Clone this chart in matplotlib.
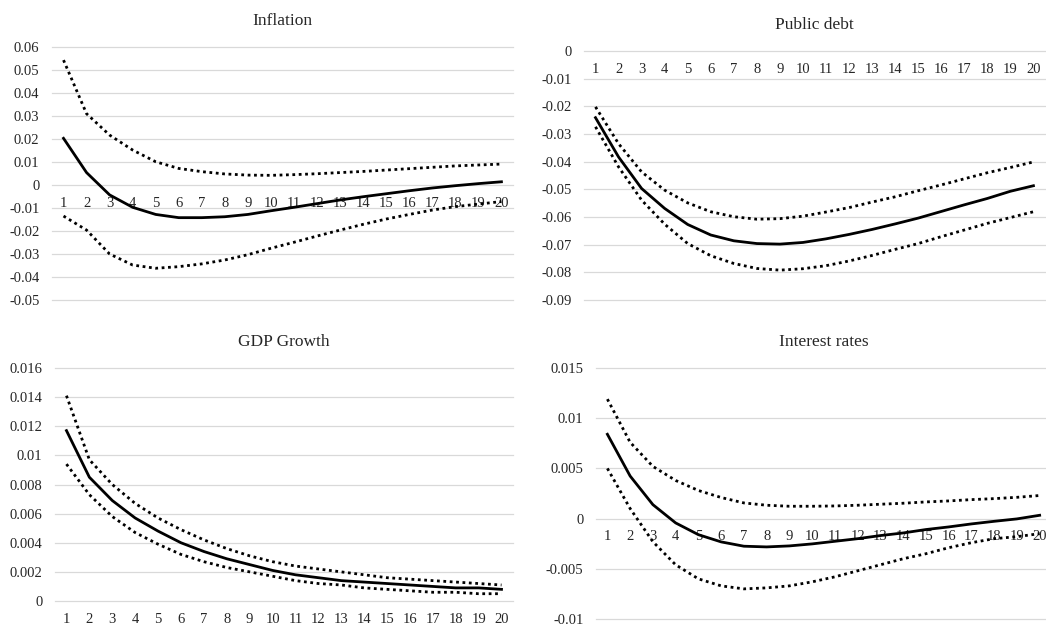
import numpy as np
import matplotlib
matplotlib.use('Agg')
import matplotlib.pyplot as plt
from matplotlib.ticker import FixedLocator, FuncFormatter

plt.rcParams['font.family'] = ['Liberation Serif', 'DejaVu Serif']
plt.rcParams['axes.unicode_minus'] = False

periods = list(range(1, 21))

# Inflation
infl_mid = [0.0203, 0.0054, -0.0043, -0.0097, -0.0128, -0.0142, -0.0142, -0.0138, -0.0128, -0.0112,
            -0.0097, -0.0081, -0.0065, -0.0051, -0.0038, -0.0025, -0.0013, -0.0003, 0.0006, 0.0014]
infl_up = [0.0543, 0.0310, 0.0217, 0.0152, 0.0101, 0.0072, 0.0058, 0.0048, 0.0043, 0.0042,
           0.0045, 0.0049, 0.0054, 0.0059, 0.0065, 0.0071, 0.0077, 0.0083, 0.0087, 0.0091]
infl_lo = [-0.0135, -0.0196, -0.0300, -0.0348, -0.0362, -0.0355, -0.0343, -0.0326, -0.0303, -0.0275,
           -0.0249, -0.0222, -0.0196, -0.0171, -0.0148, -0.0128, -0.0109, -0.0094, -0.0083, -0.0072]

# Public debt
debt_mid = [-0.0241, -0.0383, -0.0497, -0.0569, -0.0627, -0.0665, -0.0686, -0.0696, -0.0698, -0.0692,
            -0.0679, -0.0663, -0.0645, -0.0625, -0.0604, -0.0580, -0.0556, -0.0533, -0.0507, -0.0487]
debt_up = [-0.0202, -0.0335, -0.0437, -0.0503, -0.0549, -0.0581, -0.0599, -0.0608, -0.0606, -0.0597,
           -0.0582, -0.0566, -0.0546, -0.0527, -0.0505, -0.0484, -0.0462, -0.0440, -0.0421, -0.0401]
debt_lo = [-0.0274, -0.0419, -0.0539, -0.0626, -0.0696, -0.0740, -0.0768, -0.0786, -0.0792, -0.0787,
           -0.0776, -0.0759, -0.0739, -0.0717, -0.0696, -0.0671, -0.0647, -0.0623, -0.0602, -0.0581]

# GDP growth
gdp_mid = [0.0117, 0.0085, 0.0069, 0.0057, 0.0048, 0.0040, 0.0034, 0.0029, 0.0025, 0.0021,
           0.0018, 0.0016, 0.0014, 0.0013, 0.0012, 0.0011, 0.0010, 0.0009, 0.0009, 0.0008]
gdp_up = [0.0141, 0.0097, 0.0080, 0.0067, 0.0057, 0.0049, 0.0042, 0.0036, 0.0031, 0.0027,
          0.0024, 0.0022, 0.0020, 0.0018, 0.0016, 0.0015, 0.0014, 0.0013, 0.0012, 0.0011]
gdp_lo = [0.0094, 0.0073, 0.0058, 0.0047, 0.0039, 0.0032, 0.0027, 0.0023, 0.0020, 0.0017,
          0.0014, 0.0012, 0.0011, 0.0009, 0.0008, 0.0007, 0.0006, 0.0006, 0.0005, 0.0005]

# Interest rates
rate_mid = [0.0084, 0.00424, 0.00139, -0.00043, -0.0016, -0.00232, -0.00275, -0.00282, -0.00272, -0.00252,
            -0.00226, -0.0020, -0.00169, -0.00143, -0.00109, -0.00083, -0.00053, -0.00027, -0.00003, 0.00033]
rate_up = [0.0119, 0.0076, 0.0052, 0.0038, 0.0028, 0.0021, 0.00156, 0.00133, 0.00123, 0.00123,
           0.00126, 0.00133, 0.00143, 0.00153, 0.00166, 0.00176, 0.00189, 0.00199, 0.00212, 0.0023]
rate_lo = [0.0050, 0.0010, -0.0023, -0.0046, -0.0060, -0.0067, -0.0070, -0.0069, -0.0067, -0.0063,
           -0.0058, -0.0052, -0.0046, -0.0040, -0.0035, -0.0029, -0.0024, -0.0020, -0.0018, -0.0015]

panels = [
    ('Inflation', infl_mid, infl_up, infl_lo, (-0.05, 0.06), 0.01, [0.0497, 0.52, 0.4407, 0.4048]),
    ('Public debt', debt_mid, debt_up, debt_lo, (-0.09, 0.0), 0.01, [0.5583, 0.52, 0.4407, 0.3984]),
    ('GDP Growth', gdp_mid, gdp_up, gdp_lo, (0.0, 0.016), 0.002, [0.0526, 0.0384, 0.4378, 0.3728]),
    ('Interest rates', rate_mid, rate_up, rate_lo, (-0.01, 0.015), 0.005, [0.5698, 0.0096, 0.4350, 0.4016]),
]

fig = plt.figure(figsize=(10.46, 6.25), dpi=100)

for title, mid, up, lo, ylim, step, rect in panels:
    ax = fig.add_axes(rect)
    ax.plot(periods, up, color='black', lw=2, linestyle=(0, (1, 1.3)))
    ax.plot(periods, lo, color='black', lw=2, linestyle=(0, (1, 1.3)))
    ax.plot(periods, mid, color='black', lw=2)
    ax.set_xlim(0.5, 20.5)
    ax.set_ylim(*ylim)
    n = int(round((ylim[1] - ylim[0]) / step))
    ticks = [round(ylim[0] + i * step, 4) for i in range(n + 1)]
    ax.yaxis.set_major_locator(FixedLocator(ticks))
    ax.yaxis.set_major_formatter(FuncFormatter(lambda v, p: '%g' % round(v, 4)))
    ax.set_xticks(periods)
    ax.set_xticklabels([str(p) for p in periods])
    ax.grid(axis='y', color='#d9d9d9', lw=0.9)
    for gl in ax.get_ygridlines():
        gl.set_clip_on(False)
    ax.set_axisbelow(True)
    for s in ax.spines.values():
        s.set_visible(False)
    ax.spines['bottom'].set_position(('data', 0))
    ax.tick_params(axis='both', length=0, labelsize=10.5, colors='#262626')
    ax.tick_params(axis='y', pad=9)
    ax.tick_params(axis='x', pad=8.5)
    ax.set_title(title, fontsize=12.5, color='#262626', pad=16)

fig.savefig('out.png', dpi=100)
